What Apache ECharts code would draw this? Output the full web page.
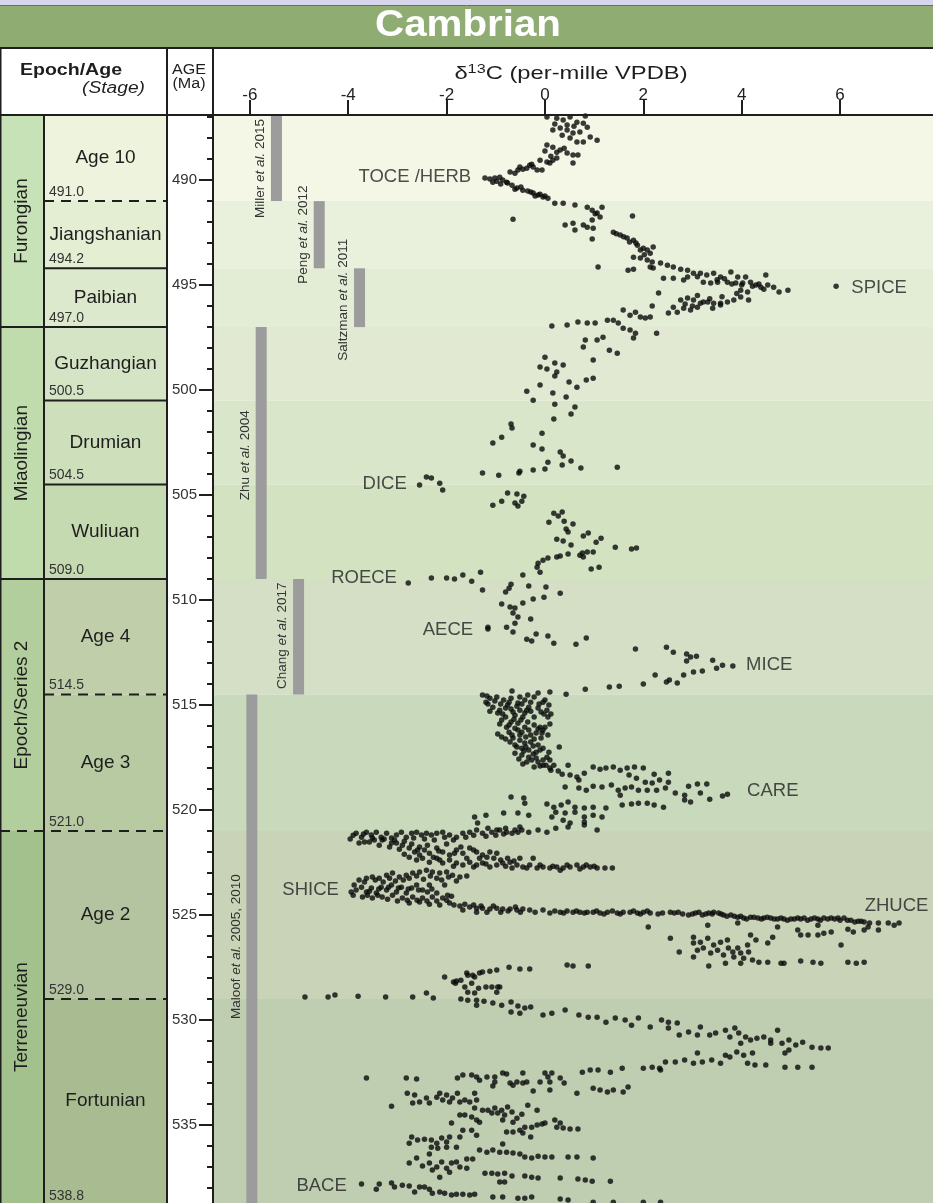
<!DOCTYPE html>
<html>
<head>
<meta charset="utf-8">
<script src="https://cdn.jsdelivr.net/npm/echarts@6/dist/echarts.min.js"></script>
<style>
html,body{margin:0;padding:0;background:#fff;}
#chart{width:933px;height:1203px;}
</style>
</head>
<body>
<div id="chart"></div>
<script>
// ---------------- Chronostratigraphy (Ma) ----------------
const cambrianTop = 485.4;
const stageNames = ['Age 10', 'Jiangshanian', 'Paibian', 'Guzhangian', 'Drumian', 'Wuliuan', 'Age 4', 'Age 3', 'Age 2', 'Fortunian'];
const stageBase = [491.0, 494.2, 497.0, 500.5, 504.5, 509.0, 514.5, 521.0, 529.0, 538.8];
const stageDashedBase = [true, false, false, false, false, false, true, true, true, false];
const epochNames = ['Furongian', 'Miaolingian', 'Epoch/Series 2', 'Terreneuvian'];
const epochBase = [497.0, 509.0, 521.0, 538.8];
const epochDashedBase = [false, false, true, false];

// ---------------- Axis ticks ----------------
const ageTicks = [490, 495, 500, 505, 510, 515, 520, 525, 530, 535];
const d13cTicks = [-6, -4, -2, 0, 2, 4, 6];

// ---------------- Source compilations (grey bars) ----------------
const refAuthors = ['Miller', 'Peng', 'Saltzman', 'Zhu', 'Chang', 'Maloof'];
const refYears = ['2015', '2012', '2011', '2004', '2017', '2005, 2010'];
const refD13C = [-5.46, -4.59, -3.77, -5.77, -5.01, -5.96];
const refTop = [485.4, 491.0, 494.2, 497.0, 509.0, 514.5];
const refBase = [491.0, 494.2, 497.0, 509.0, 514.5, 538.8];
const refLabelAge = [489.45, 492.6, 495.7, 503.1, 511.7, 526.5];

// ---------------- Named carbon-isotope excursions ----------------
const excursionNames = ['TOCE /HERB', 'SPICE', 'DICE', 'ROECE', 'AECE', 'MICE', 'CARE', 'SHICE', 'ZHUCE', 'BACE'];
const excursionD13C = [-1.49, 6.22, -2.8, -3.0, -1.45, 4.08, 4.1, -4.18, 6.49, -4.02];
const excursionAge = [489.86, 495.14, 504.48, 508.95, 511.43, 513.1, 519.1, 523.81, 524.57, 537.9];
const excursionSide = ['left', 'right', 'left', 'left', 'left', 'right', 'right', 'left', 'right', 'left'];

// ---------------- δ13C measurements [per-mille VPDB, age Ma] ----------------
const age10Pts = [
  [0.82,486.95],[0.04,487.0],[0.24,487.05],[0.37,487.14],[0.51,487.0],[0.65,487.24],[0.78,487.29],
  [0.16,487.62],[0.31,487.52],[0.45,487.62],[0.57,487.76],[0.71,487.71],[0.86,487.48],
  [0.65,488.19],[0.78,488.19],[0.92,487.95],[1.06,488.1],
  [0.04,488.33],[0.16,488.43],[0.24,488.67],[0.31,488.57],[0.45,488.71],[0.57,488.81],[0.67,488.81],
  [-0.1,489.05],[0.04,489.14],[0.1,489.19],[0.16,489.05],[0.24,488.95],[0.57,489.19],
  [-0.51,489.38],[-0.37,489.43],[-0.24,489.38],[-0.16,489.52],[-0.06,489.52],
  [-0.71,489.62],[-0.61,489.67],[-0.55,489.52],
  [-1.22,489.9],[-1.12,489.95],[-1.02,489.9],[-0.92,489.86],[-0.86,490.0],[-0.78,490.1],[-0.76,490.14],[-0.67,490.24],[-0.57,490.38],
  [-0.45,490.48],[-0.35,490.52],[-0.24,490.62],[-0.14,490.71],[-0.04,490.81],[0.06,490.86],
  [0.2,487.33],[0.45,487.38],[0.59,487.43],[0.35,487.86],[0.51,488.0],[0.39,488.48],[0.12,488.86],[0.0,488.62],
  [-0.27,489.24],[-0.45,489.48],[-0.31,489.29],[-0.98,490.05],[-1.06,490.1],[-0.9,490.19],[-0.61,490.43],
  [-0.49,490.33],[-0.29,490.57],[-0.1,490.67],[-0.2,490.76],[0.0,490.76]
];
const jiangshanianPts = [
  [0.2,491.1],[0.37,491.1],[0.61,491.19],[0.86,491.29],[0.96,491.43],[1.06,491.57],[1.16,491.29],[1.12,491.76],
  [-0.65,491.86],[1.78,491.71],
  [0.41,492.14],[0.57,492.05],[0.61,492.38],[0.78,492.14],[0.86,492.24],[0.98,492.29],[0.96,491.9],[0.96,492.81],
  [1.39,492.48],[1.53,492.62],[1.67,492.76],[1.8,492.86],[1.88,493.1],[1.94,493.33],[2.0,493.24],[2.08,493.33],[2.14,493.48],[2.2,493.19],
  [1.8,493.67],[1.94,493.71],[2.08,493.81],[2.18,493.9],[1.08,494.14],
  [1.69,494.29],[1.8,494.24],[2.14,494.14],[2.2,494.19],[2.35,493.95],[2.49,494.05],[2.61,494.14],[2.76,494.24],[2.9,494.29],
  [1.02,491.6],[1.45,492.55],[1.6,492.7],[1.72,492.95],[1.85,493.0],[2.02,493.55]
];
const paibianPts = [
  [2.41,494.67],[2.61,494.67],[2.82,494.76],[2.9,494.62],[3.02,494.43],[3.16,494.43],[3.29,494.52],[3.43,494.43],[3.57,494.62],[3.78,494.38],[3.92,494.62],[4.08,494.62],
  [3.22,494.86],[3.37,494.9],[3.51,494.86],[3.71,494.86],[3.88,494.9],[4.02,494.9],[4.18,494.86],[4.29,495.0],[4.39,495.1],[4.49,494.52],[4.53,495.0],[4.65,495.1],[4.76,495.33],[4.94,495.24],
  [5.92,495.05],
  [3.98,495.24],[4.12,495.33],[3.98,495.57],[3.84,495.71],[3.71,495.81],[3.57,495.86],[3.43,495.86],[3.31,495.81],[3.16,495.86],[3.02,495.71],[2.9,495.62],[2.76,495.71],
  [2.61,496.05],[2.51,496.33],[2.69,496.29],[2.82,496.1],[2.96,496.19],[3.1,496.05],[3.22,495.81],[3.41,496.1],[3.57,495.95],[4.14,495.71],
  [2.31,495.38],[2.18,496.0],
  [1.59,496.19],[1.73,496.43],[1.84,496.29],[1.94,496.52],[2.04,496.57],[2.14,496.52],[1.39,496.67],[1.49,496.81],
  [0.14,496.95],[0.45,496.9],[0.67,496.76],[0.86,496.81],[1.02,496.81],[1.27,496.67],
  [3.5,494.75],[3.65,494.7],[3.8,494.95],[4.22,495.05],[4.35,494.95],[4.45,495.2],[3.9,495.4],[3.6,495.55],[3.35,495.65],[3.1,495.5],[2.85,495.9],[3.0,496.0],[4.0,495.0],[3.1,494.6]
];
const guzhangianPts = [
  [1.59,497.05],[1.73,497.14],[1.84,497.29],[1.8,497.52],[2.27,497.29],
  [0.82,497.62],[0.78,497.95],[1.06,497.62],[1.18,497.48],
  [0,498.43],[0.2,498.71],[0.37,498.81],[-0.1,498.9],[0.04,499.0],[0.24,499.14],[0.2,499.33],
  [0.98,498.57],[1.31,498.1],[1.47,498.24],
  [-0.1,499.76],[0.49,499.62],[0.65,499.86],[0.84,499.52],[0.98,499.43],
  [-0.37,500.05],[-0.24,500.48],[0.16,500.14],[0.43,500.33]
];
const drumianPts = [
  [0.2,500.67],[0.61,500.81],[0.53,501.14],[0.18,501.38],
  [-0.69,501.62],[-0.67,501.81],[-0.88,502.24],[-1.06,502.52],[-0.06,502.05],[-0.24,502.62],[-0.06,502.81],
  [0.31,502.95],[0.37,503.14],[0.53,503.38],[0.35,503.57],[0.73,503.71],[0.06,503.43],[0,503.76],[-0.24,503.81],[-0.51,503.86],[-0.53,503.95],[-0.94,504.05],[-1.27,503.95],[1.47,503.67],
  [-2.55,504.52],[-2.41,504.14],[-2.31,504.19],[-2.14,504.43],[-2.08,504.76]
];
const wuliuanPts = [
  [-0.76,504.9],[-0.57,504.95],[-0.43,505.05],[-0.88,505.29],[-1.06,505.48],[-0.61,505.38],[-0.55,505.52],[-0.47,505.29],
  [0.18,505.86],[0.35,505.81],[0.08,506.29],[0.27,506.0],[0.39,506.24],[0.57,506.38],[0.43,506.62],[0.47,506.76],
  [0.24,507.1],[0.37,507.19],[0.53,507.38],[0.78,506.95],[0.88,506.81],[1.04,507.24],[1.14,507.05],[1.43,507.48],[1.76,507.57],[1.86,507.52],
  [0.76,507.76],[0.86,507.71],[0.98,507.71],[0.71,507.86],[0.78,507.95],[0.47,507.81],[0.31,507.9],[0.24,507.95],[0.06,508.0],[-0.04,508.1],[-0.14,508.24],[-0.16,508.43],[-0.1,508.67],[0.94,508.52],[1.1,508.43],
  [-0.45,508.81],
  [-2.78,509.19],[-2.31,508.95],[-2.0,508.95],[-1.84,509.0],[-1.67,508.81],[-1.49,509.1],[-1.31,508.67]
];
const age4Pts = [
  [-0.69,509.24],[-0.8,509.62],[-0.73,509.43],[-0.33,509.33],[0.02,509.38],[0.31,509.67],[-1.27,509.52],[-0.02,509.86],[-0.24,509.95],[-0.45,510.14],
  [-0.88,510.19],[-0.71,510.33],[-0.61,510.38],[-0.65,510.62],[-0.55,510.81],[-0.29,510.9],[-0.61,511.1],[-0.65,511.52],[-0.78,511.29],
  [-1.16,511.29],[-1.16,511.38],
  [-0.37,511.86],[-0.27,511.95],[-0.18,511.62],[0.06,511.71],[0.18,512.05],[0.63,512.1],[0.84,511.81],
  [1.84,512.33],[2.47,512.24],[2.61,512.48],[2.88,512.57],[2.96,512.71],[3.08,512.67],[2.88,512.9],[3.41,512.86],[3.49,513.24],[3.61,513.1],[3.82,513.14],
  [3.02,513.43],[3.2,513.38],[2.82,513.57],[2.69,513.95],[2.53,513.81],[2.47,513.9],[2.24,513.57],[2.0,514.0],[1.51,514.1],[1.31,514.14],[0.82,514.24],
  [0.43,514.48],[0.1,514.38],[-0.14,514.43],[-0.35,514.52],[-0.67,514.33],[-0.51,514.62],[-1.18,514.57]
];
const age3Pts = [
  [-1.27,514.52],[-1.2,514.86],[-1.12,514.67],[-0.98,514.62],[-0.84,514.76],[-0.69,514.67],[-0.55,514.9],[-0.41,514.76],[-0.22,514.62],[-0.04,514.86],[0,514.76],
  [-1.06,515.1],[-0.92,515.24],[-0.8,515.14],[-0.65,515.33],[-0.51,515.24],[-0.33,515.1],[-0.14,515.14],[0.04,515.24],[-0.96,515.38],[-0.8,515.57],[-0.61,515.48],[-0.41,515.38],[-0.22,515.57],[0.06,515.57],
  [-0.88,515.71],[-0.69,515.81],[-0.55,515.86],[-0.41,516.05],[-0.22,515.95],[-0.1,516.05],[0.1,515.9],[-0.61,516.1],[-0.47,516.29],[-0.33,516.19],[-0.18,516.33],[-0.06,516.33],
  [-0.88,516.52],[-0.8,516.62],[-0.65,516.57],[-0.51,516.67],[-0.41,516.81],[-0.29,516.76],[-0.14,516.9],[-0.61,516.9],[-0.47,517.05],[-0.33,517.14],[-0.18,517.24],[-0.04,517.05],[0.29,517.0],
  [-0.61,517.29],[-0.47,517.38],[-0.33,517.48],[-0.18,517.52],[-0.04,517.62],[0.04,517.48],[-0.37,517.71],[-0.14,517.71],[0.18,517.86],[0.12,518.1],[0.47,517.86],
  [-0.76,515.0],[-0.57,515.05],[-0.29,515.29],[-0.02,515.43],[-0.73,515.95],[-0.29,516.43],[-0.51,516.43],[-0.04,516.19],[-0.73,516.29],[-0.24,517.33],[-0.43,517.19],[0.02,517.86],[-0.1,517.9],[0.1,517.62],
  [-1.16,514.95],[-1.02,514.81],[-0.9,514.95],[-0.73,514.86],[-0.47,514.95],[-0.29,514.86],[-0.12,514.95],[0.08,515.0],
  [-1.12,515.29],[-0.86,515.43],[-0.69,515.19],[-0.45,515.57],[-0.37,515.24],[-0.08,515.33],[0.12,515.43],
  [-0.92,515.9],[-0.78,516.05],[-0.63,515.67],[-0.49,515.71],[-0.35,515.81],[-0.14,516.14],[0.0,516.05],
  [-0.96,516.38],[-0.67,516.43],[-0.55,516.19],[-0.39,516.52],[-0.22,516.62],[-0.08,516.57],[0.06,516.43],
  [-0.71,516.76],[-0.57,517.0],[-0.39,517.0],[-0.24,516.95],[-0.1,517.14],[0.08,517.24],
  [-0.53,517.57],[-0.45,517.81],[-0.27,517.62],[-0.04,517.86],[0.1,518.0],[-0.22,517.95],[0.27,518.14],[0.35,518.29],
  [0.51,518.33],[0.65,518.43],[0.8,518.24],[0.69,518.57],[0.98,517.95],[1.12,518.05],[1.24,518.0],[1.39,517.95],[1.53,518.1],[1.67,518.0],[1.82,517.95],[2.0,518.0],[2.22,518.29],[2.51,518.24],
  [1.71,518.33],[1.86,518.48],[2.04,518.67],[2.18,518.71],[2.33,518.57],[2.51,518.67],[2.65,519.19],[2.84,519.29],[2.92,518.86],[3.1,518.76],[3.29,518.76],[3.16,519.19],[3.35,519.48],[3.61,519.33],[3.71,519.24],[2.96,519.62],[2.84,519.52],
  [0.41,518.9],[0.69,518.95],[0.84,519.05],[0.98,518.86],[1.16,518.9],[1.35,518.81],[1.49,519.05],[1.53,519.29],[1.63,518.95],[1.76,518.9],[1.9,519.05],[2.08,519.05],[2.27,519.05],[2.45,518.95],
  [1.57,519.76],[1.76,519.71],[1.9,519.67],[2.08,519.67],[2.22,519.76],[2.41,519.86],
  [-0.69,519.38],[-0.43,519.43],[-0.41,519.67],[0.04,519.71],[0.18,519.86],[0.33,519.76],[0.47,519.62],[0.61,519.86],[0.8,519.9],[0.98,519.86],[1.24,519.9],
  [0.22,520.1],[0.41,520.14],[0.61,520.1],[0.8,520.33],[0.98,520.24],[1.16,520.33],[0.14,520.33],[0.37,520.48],[0.51,520.62],[0.8,520.57],[0.8,520.71],
  [-1.43,520.33],[-1.2,520.24],[-0.84,520.14],[-0.55,520.14],[-0.33,520.24],[-1.37,520.62],[-1.16,520.86],[-0.98,520.95],[-0.8,520.86],[-0.51,520.81],[-0.33,521.05],[-0.14,520.95],[0.04,521.05],[0.22,520.86],[0.47,520.81],[1.06,520.95]
];
const age2Pts = [
  // SHICE, upper limb
  [-3.96,521.38],[-3.84,521.1],[-3.73,521.29],[-3.63,521.05],[-3.53,521.19],[-3.43,521.05],[-3.33,521.29],[-3.22,521.1],[-3.12,521.33],[-3.02,521.19],[-2.92,521.05],[-2.82,521.29],[-2.71,521.1],[-2.61,521.05],[-2.51,521.19],
  [-2.41,521.1],[-2.31,521.19],[-2.2,521.1],[-2.08,521.05],[-1.94,521.19],[-1.8,521.29],[-1.67,521.1],[-1.53,521.05],[-1.39,520.95],[-1.27,521.1],[-1.08,521.05],[-0.92,520.95],[-0.78,521.05],[-0.61,520.95],[-0.47,520.95],
  [-3.78,521.57],[-3.57,521.52],[-3.37,521.67],[-3.16,521.76],[-3.02,521.57],[-3.31,521.43],[-3.51,521.33],[-3.67,521.52],
  [-3.9,521.2],[-3.69,521.14],[-3.47,521.43],[-3.27,521.38],[-3.06,521.43],[-2.86,521.48],[-2.67,521.33],[-2.45,521.38],[-2.25,521.43],[-2.04,521.29],[-1.86,521.43],[-1.61,521.29],[-1.45,521.2],[-1.2,521.24],[-1.0,521.2],[-0.84,521.14],[-0.67,521.1],[-0.55,521.05],
  [-2.9,521.67],[-2.76,521.81],[-2.65,522.0],[-2.55,521.76],[-2.45,521.9],[-2.35,522.05],[-2.2,521.81],[-2.08,522.0],[-1.94,522.14],[-1.8,521.9],[-1.67,522.05],[-1.53,521.81],[-1.39,522.0],[-1.27,522.14],[-1.12,522.0],[-0.98,522.05],
  [-3.12,521.57],[-2.96,521.86],[-2.71,521.62],[-2.59,521.9],[-2.39,521.67],[-2.16,521.95],[-2.0,521.62],[-1.84,522.05],[-1.71,521.76],[-1.45,521.9],[-1.33,522.29],[-1.18,522.24],[-1.04,522.29],[-0.9,522.38],[-0.76,522.29],[-0.63,522.43],
  [-2.76,522.24],[-2.61,522.38],[-2.49,522.29],[-2.35,522.48],[-2.2,522.29],[-2.08,522.52],[-1.94,522.38],[-1.8,522.52],[-1.67,522.62],[-1.53,522.48],[-1.39,522.62],[-1.27,522.52],[-1.12,522.71],[-0.98,522.62],
  [-2.86,522.1],[-2.55,522.14],[-2.27,522.24],[-2.14,522.38],[-1.86,522.67],[-1.59,522.29],[-1.45,522.71],[-1.2,522.57],[-0.8,522.67],[-0.67,522.76],[-0.37,522.76],[-0.1,522.62],[0.16,522.67],[0.31,522.86],[0.45,522.62],[0.71,522.81],[0.84,522.62],[1.0,522.67],[1.22,522.76],
  [-0.86,522.52],[-0.71,522.48],[-0.57,522.62],[-0.51,522.29],[-0.45,522.71],[-0.31,522.62],[-0.24,522.29],[-0.16,522.76],[-0.04,522.71],[0.1,522.76],[0.24,522.71],[0.37,522.76],[0.51,522.71],[0.65,522.62],[0.78,522.71],[0.92,522.71],[1.06,522.76],[1.37,522.76],
  // SHICE, lower limb
  [-3.78,523.33],[-3.63,523.24],[-3.51,523.19],[-3.37,523.24],[-3.22,523.1],[-3.1,523.0],[-2.96,523.19],[-2.82,523.1],[-2.69,523.0],[-2.55,522.95],[-2.41,522.86],[-2.29,522.95],[-2.14,523.0],[-2.0,522.95],[-1.88,523.1],[-1.73,523.19],[-1.59,523.14],[-2.2,523.24],[-2.04,523.57],[-2.35,523.57],
  [-3.88,523.57],[-3.67,523.43],[-3.45,523.33],[-3.29,523.43],[-3.16,523.24],[-3.04,523.38],[-2.88,523.33],[-2.76,523.24],[-2.61,523.14],[-2.47,523.29],[-2.33,523.14],[-2.1,523.33],[-1.96,523.19],[-1.8,523.38],
  [-3.94,523.9],[-3.84,523.81],[-3.73,523.67],[-3.63,523.9],[-3.53,523.71],[-3.43,523.95],[-3.33,523.67],[-3.22,523.81],[-3.12,523.57],[-3.02,523.9],[-2.92,523.67],[-2.82,523.95],[-2.71,523.71],[-2.61,523.57],[-2.49,523.81],[-2.39,523.9],
  [-3.57,523.86],[-3.38,523.76],[-3.18,523.67],[-2.98,523.71],[-2.78,523.76],[-2.57,523.81],[-2.3,523.76],[-2.2,523.95],[-1.9,524.1],
  [-3.71,524.14],[-3.51,524.19],[-3.31,524.14],[-3.1,524.05],[-2.9,524.19],[-2.69,524.14],[-2.49,524.19],[-2.29,524.14],[-2.08,524.19],[-1.98,524.05],
  [-3.9,524.05],[-3.61,524.05],[-3.4,524.05],[-3.2,524.24],[-3.0,524.33],[-2.8,524.29],[-2.6,524.29],[-2.4,524.33],[-2.2,524.33],[-2.0,524.29],[-1.85,524.52],[-1.63,524.48],[-1.45,524.52],[-1.3,524.57],[-1.05,524.57],[-0.9,524.86],[-0.75,524.81],[-0.6,524.62],[-0.5,524.86],[-0.2,524.86],
  [-2.76,524.43],[-2.55,524.38],[-2.35,524.48],[-2.14,524.52],[-1.94,524.43],[-1.73,524.57],[-1.53,524.62],[-1.39,524.67],[-1.27,524.67],[-1.12,524.71],[-0.98,524.67],[-0.86,524.71],[-0.71,524.71],[-0.57,524.76],[-0.45,524.71],[-0.31,524.76],[-1.67,524.76],[-1.39,524.86],[-1.18,524.86],
  // ZHUCE
  [-0.04,524.76],[0.1,524.9],[0.31,524.86],[0.45,524.81],[0.57,524.86],[0.71,524.86],[0.86,524.86],[0.98,524.86],[1.12,524.9],[1.27,524.86],[1.47,524.9],[1.59,524.86],[1.73,524.86],[1.88,524.9],[2.0,524.86],[2.14,524.9],
  [2.39,524.9],[2.55,524.86],[2.71,524.86],[2.92,525.0],[3.06,524.9],[3.2,525.0],[3.33,524.9],[3.43,524.86],[3.53,524.9],[3.63,525.0],[3.78,525.0],[3.92,525.1],[4.04,525.14],[4.18,525.1],[4.33,525.14],[4.45,525.14],
  [4.59,525.14],[4.73,525.19],[4.86,525.19],[5.0,525.19],[5.14,525.14],[5.27,525.14],[5.41,525.19],[5.55,525.19],[5.67,525.14],[5.82,525.14],[5.96,525.14],[6.08,525.14],
  [0.2,524.81],[0.38,524.9],[0.64,524.81],[0.8,524.9],[1.05,524.81],[1.2,524.95],[1.37,524.81],[1.53,524.95],[1.8,524.81],[1.94,524.95],[2.08,524.81],[2.3,524.95],[2.63,524.9],[2.8,524.95],[3.0,524.95],[3.13,524.86],
  [3.27,524.95],[3.4,524.95],[3.58,524.95],[3.7,525.05],[3.85,525.05],[3.98,525.05],[4.1,525.19],[4.25,525.1],[4.4,525.19],[4.52,525.1],[4.66,525.19],[4.8,525.14],[4.93,525.24],[5.07,525.19],[5.2,525.19],[5.34,525.24],
  [5.48,525.14],[5.6,525.24],[5.75,525.19],[5.89,525.19],[6.0,525.24],[6.15,525.24],[6.3,525.33],[6.43,525.29],[6.6,525.38],
  [6.22,525.24],[6.37,525.29],[6.49,525.33],[6.57,525.57],[6.78,525.38],[6.78,525.71],[6.98,525.38],[7.1,525.48],[7.2,525.38],[6.16,525.67],[6.27,525.81],[6.49,525.71],[6.02,526.43],
  [2.1,525.57],[3.31,525.48],[3.92,525.38],[4.73,525.57],[5.14,525.71],[5.2,525.95],[5.35,525.95],[5.55,525.95],[5.67,525.86],[5.82,525.81],[5.55,525.48],
  [2.55,526.1],[2.73,526.76],[3.02,526.05],[3.02,526.33],[3.1,526.67],[3.02,527.0],[3.16,526.29],[3.22,526.57],[3.31,526.1],[3.37,526.81],[3.43,526.43],[3.51,526.67],[3.57,526.29],[3.63,526.9],[3.71,526.19],[3.73,526.57],
  [3.82,526.76],[3.84,527.0],[3.92,526.57],[3.98,526.81],[4.04,527.05],[4.12,526.43],[4.14,526.76],[4.18,525.95],[4.22,527.14],[4.29,526.19],[4.35,527.24],[4.53,526.33],[4.63,526.05],[4.53,527.24],
  [3.33,527.43],[3.67,527.29],[3.98,527.29],[4.8,527.29],[4.86,527.29],[5.2,527.19],[5.45,527.24],[5.61,527.29],[6.16,527.24],[6.33,527.29],[6.49,527.24],
  // Age 2 / Fortunian transition
  [-2.04,527.95],[-1.8,528.14],[-1.59,527.76],[-1.47,527.86],[-1.33,527.76],[-1.27,527.71],[-1.12,527.67],[-0.98,527.62],[-0.73,527.48],[-0.51,527.57],[-0.31,527.57],[0.45,527.38],[0.57,527.43],[0.88,527.43],
  [-1.49,528.24],[-1.08,528.43],[-0.96,528.43],[-1.86,528.19],[-1.71,528.1],[-1.57,527.86],[-1.43,527.95],[-1.82,528.24],[-1.63,528.43],[-1.35,528.48],[-1.57,528.67],[-1.43,528.71],[-1.2,528.43],[-0.92,528.43],[-0.98,528.67],
  [-4.88,528.9],[-4.41,528.9],[-4.27,528.81],[-3.8,528.86],[-3.24,528.9],[-2.69,528.9],[-2.41,528.71],[-2.27,528.95]
];
const fortunianPts = [
  [-1.71,529.0],[-1.57,529.05],[-1.39,529.05],[-1.24,529.1],[-1.39,529.29],[-1.06,529.19],[-0.88,529.29],[-0.69,529.14],[-0.55,529.33],[-0.41,529.43],[-0.29,529.38],[-0.69,529.62],[-0.51,529.67],
  [-0.04,529.76],[0.14,529.67],[0.41,529.52],[0.69,529.76],[0.88,529.86],[1.06,529.86],[1.24,530.1],[1.43,529.9],[1.63,530.0],[1.76,530.24],[1.9,529.9],[2.14,530.33],[2.37,530.0],[2.51,530.1],[2.69,530.14],
  [2.51,530.38],[2.73,530.71],[2.92,530.57],[3.16,530.33],[3.1,530.71],[3.35,530.71],[3.47,530.62],[3.67,530.48],[3.76,530.81],[3.86,530.38],[3.94,530.62],[4.08,530.81],[4.18,530.95],[4.31,530.86],
  [4.45,530.81],[4.59,530.95],[4.73,530.48],[4.82,531.1],[4.96,530.95],[5.1,531.19],[5.24,531.05],[5.43,531.29],[5.61,531.33],[5.76,531.33],[4.88,531.57],[4.96,531.43],[3.98,531.1],[4.59,531.1],
  [4.22,531.57],[4.04,531.67],[3.9,531.52],[3.67,531.67],[3.57,532.05],[3.39,531.9],[3.2,532.0],[3.1,531.57],[3.02,532.05],[2.84,531.9],[2.65,532.0],[2.45,532.0],[2.33,532.29],[2.18,532.24],[2.0,532.29],
  [4.27,532.14],[4.49,532.14],[4.88,532.24],[5.14,532.24],[5.43,532.24],[4.12,532.05],[3.76,531.76],[2.35,532.38],
  [-3.63,532.76],[-2.82,532.76],[-2.61,532.81],
  [-1.78,532.76],[-1.67,532.62],[-1.49,532.62],[-1.39,532.71],[-1.33,532.86],[-1.18,532.71],[-1.02,532.71],[-1.02,532.95],[-0.86,532.52],[-0.78,532.57],[-1.06,533.14],[-0.71,533.0],[-0.65,533.1],[-0.57,532.95],
  [-0.45,532.52],[-0.45,533.0],[-0.37,532.95],[-0.24,533.38],[-0.1,532.95],[0,532.52],[0.06,532.71],[0.14,532.52],[0.1,532.95],[0.1,533.33],[0.31,532.76],[0.39,533.0],[0.65,533.48],
  [0.76,532.48],[0.92,532.38],[1.08,532.38],[1.33,532.48],[1.57,532.29],
  [0.98,533.24],[1.12,533.33],[1.27,533.43],[1.39,533.33],[1.59,533.43],[1.69,533.19],
  [-2.8,533.48],[-2.65,533.57],[-2.69,533.95],[-2.55,533.9],[-2.41,533.71],[-2.35,533.95],[-2.2,533.67],[-2.14,533.48],[-2.08,533.81],[-2.0,533.57],[-1.94,533.9],[-1.88,533.71],[-1.78,533.48],[-1.73,533.9],
  [-1.63,533.81],[-1.53,533.9],[-1.43,533.48],[-1.39,533.81],[-3.12,534.1],
  [-1.73,534.52],[-1.63,534.52],[-1.49,534.62],[-1.43,534.19],[-1.39,534.76],[-1.33,534.86],[-1.27,534.29],[-1.16,534.29],[-1.08,534.43],[-1.02,534.19],[-0.96,534.43],[-0.88,534.29],[-0.82,534.52],[-0.76,534.14],
  [-0.67,534.38],[-0.86,534.76],[-0.65,534.86],[-0.57,534.67],[-0.47,534.48],[-0.35,534.05],[-0.16,534.29],[-1.9,534.9],
  [-0.78,535.33],[-0.65,535.33],[-0.51,535.24],[-0.41,535.1],[-0.27,535.1],[-0.16,535.0],[-0.06,534.95],[0,534.9],[0.2,534.76],[0.31,534.9],[0.24,535.1],[0.37,535.14],[0.51,535.19],[0.67,535.19],[-0.29,535.57],[-0.45,535.38],
  [-1.67,535.24],[-1.49,535.24],[-1.39,535.48],[-1.73,535.57],[-2.71,535.57],[-2.76,535.86],[-2.59,535.71],[-2.45,535.67],[-2.31,535.71],[-2.2,535.86],[-2.1,535.62],[-2.0,535.81],[-1.94,535.57],[-1.8,536.05],
  [-2.31,536.05],[-2.18,536.1],[-2.0,536.05],[-0.86,535.9],[-2.35,536.38],
  [-1.33,536.19],[-1.18,536.29],[-1.06,536.19],[-0.92,536.29],[-0.78,536.29],[-0.65,536.33],[-0.51,536.38],[-0.41,536.52],[-0.27,536.57],[-0.14,536.48],[0,536.52],[0.14,536.52],[0.47,536.52],[0.65,536.52],[0.98,536.57],
  [-2.76,536.81],[-2.61,536.57],[-2.49,536.95],[-2.35,536.81],[-2.2,537.0],[-2.1,536.76],[-2.0,537.05],[-1.9,536.81],[-1.8,536.76],[-1.73,537.0],[-1.59,536.62],[-1.47,536.62],[-1.59,537.05],[-2.14,537.48],[-2.29,537.14],[-1.94,537.24],
  [-1.22,537.29],[-1.08,537.29],[-0.96,537.33],[-0.82,537.29],[-0.67,537.43],[-0.92,537.71],[-0.82,537.71],[-0.41,537.43],[-0.27,537.48],[-0.14,537.52],[0.31,537.52],[0.67,537.57],[0.82,537.62],[0.96,537.67],[1.33,537.67],
  // BACE
  [-3.73,537.81],[-3.43,538.05],[-3.37,537.81],[-3.12,537.76],[-3.06,537.95],[-2.9,537.86],[-2.76,537.9],[-2.65,538.19],[-2.55,537.95],[-2.45,537.95],[-2.35,538.05],[-2.29,538.24],[-2.14,538.19],[-2.04,538.24],
  [-1.9,538.33],[-1.8,538.29],[-1.67,538.29],[-1.53,538.33],[-1.43,538.29],[-1.06,538.43],[-0.86,538.43],[-0.55,538.48],[-0.41,538.48],[-0.27,538.43],[0.31,538.52],[0.47,538.57],[0.98,538.67],[1.39,538.67],[2.0,538.67],[2.35,538.67]
];

const allPoints = [].concat(age10Pts, jiangshanianPts, paibianPts, guzhangianPts, drumianPts,
  wuliuanPts, age4Pts, age3Pts, age2Pts, fortunianPts);

// ---------------- Styling ----------------
const FONT = '"Liberation Sans", Arial, Helvetica, sans-serif';
const INK = '#1e1e1e';
const stageCellColors = ['#edf3dd', '#e3eed3', '#dce9cc', '#d5e4c4', '#cde0bb', '#c5dab0', '#c0cfaa', '#b8caa2', '#b4c3a0', '#a9bc91'];
const stageBandColors = ['#f4f6e6', '#e9f0db', '#e3edd6', '#e1e9d3', '#d9e6c9', '#d3e3c2', '#d4dfc6', '#c9d9bc', '#c9d3b7', '#bfcdb1'];
const epochColors = ['#c7e2b6', '#c0dcad', '#b2ce9d', '#a2c18d'];
const EPOCH_COL = 44;        // width of the epoch column in the table grid
const AGE_MIN = 486.9, AGE_MAX = 538.71;
const D_MIN = -6.75, D_MAX = 7.89;

const chart = echarts.init(document.getElementById('chart'), null, { renderer: 'canvas' });

function stageBandItem(params, api) {
  const i = api.value(2);
  const cs = params.coordSys;
  const top = i === 0 ? cambrianTop : stageBase[i - 1];
  const y0 = api.coord([0, top])[1];
  const y1 = api.coord([0, stageBase[i]])[1];
  return { type: 'rect', shape: { x: cs.x, y: y0, width: cs.width, height: y1 - y0 }, style: { fill: stageBandColors[i] } };
}

function stageCellItem(params, api) {
  const i = api.value(2);
  const cs = params.coordSys;
  const top = i === 0 ? cambrianTop : stageBase[i - 1];
  const y0 = api.coord([0, top])[1];
  const y1 = api.coord([0, stageBase[i]])[1];
  const x0 = cs.x + EPOCH_COL, x1 = cs.x + cs.width;
  const v0 = Math.max(y0, cs.y), v1 = Math.min(y1, cs.y + cs.height);
  const children = [
    { type: 'rect', shape: { x: x0, y: y0, width: x1 - x0, height: y1 - y0 }, style: { fill: stageCellColors[i] } },
    { type: 'text', x: (x0 + x1) / 2, y: (v0 + v1) / 2,
      style: { text: stageNames[i], fontSize: 19, fontFamily: FONT, fill: INK, align: 'center', verticalAlign: 'middle' } },
    { type: 'text', x: x0 + 5, y: y1 - 9,
      style: { text: stageBase[i].toFixed(1), fontSize: 14, fontFamily: FONT, fill: '#333', align: 'left', verticalAlign: 'middle' } }
  ];
  if (epochBase.indexOf(stageBase[i]) < 0) {
    children.push({ type: 'line', z2: 10, shape: { x1: x0, y1: y1, x2: x1, y2: y1 },
      style: { stroke: INK, lineWidth: 2, lineDash: stageDashedBase[i] ? [10, 7] : null } });
  }
  return { type: 'group', children };
}

function epochCellItem(params, api) {
  const i = api.value(2);
  const cs = params.coordSys;
  const top = i === 0 ? cambrianTop : epochBase[i - 1];
  const y0 = api.coord([0, top])[1];
  const y1 = api.coord([0, epochBase[i]])[1];
  const v0 = Math.max(y0, cs.y), v1 = Math.min(y1, cs.y + cs.height);
  return { type: 'group', children: [
    { type: 'rect', shape: { x: cs.x, y: y0, width: EPOCH_COL, height: y1 - y0 }, style: { fill: epochColors[i] } },
    { type: 'text', x: cs.x + EPOCH_COL / 2, y: (v0 + v1) / 2, rotation: Math.PI / 2,
      style: { text: epochNames[i], fontSize: 19, fontFamily: FONT, fill: INK, align: 'center', verticalAlign: 'middle' } },
    { type: 'line', z2: 10, shape: { x1: cs.x, y1: y1, x2: cs.x + cs.width, y2: y1 },
      style: { stroke: INK, lineWidth: 2, lineDash: epochDashedBase[i] ? [10, 7] : null } }
  ] };
}

function refBarItem(params, api) {
  const i = api.value(3);
  const pTop = api.coord([api.value(0), api.value(1)]);
  const pBot = api.coord([api.value(0), api.value(2)]);
  const yLab = api.coord([api.value(0), refLabelAge[i]])[1];
  return { type: 'group', children: [
    { type: 'rect', shape: { x: pTop[0] - 5.5, y: pTop[1], width: 11, height: pBot[1] - pTop[1] }, style: { fill: '#9c9c9c' } },
    { type: 'text', x: pTop[0] - 16, y: yLab, rotation: Math.PI / 2,
      style: {
        text: '{n|' + refAuthors[i] + ' }{i|et al.}{n| ' + refYears[i] + '}',
        align: 'center', verticalAlign: 'middle',
        rich: {
          n: { fontSize: 13.5, fontFamily: FONT, fill: '#333' },
          i: { fontSize: 13.5, fontFamily: FONT, fontStyle: 'italic', fill: '#333' }
        }
      } }
  ] };
}

const frameLine = (x1, y1, x2, y2, w) => ({ type: 'line', z: 100, shape: { x1, y1, x2, y2 }, style: { stroke: INK, lineWidth: w || 2 } });

const option = {
  animation: false,
  backgroundColor: '#ffffff',
  textStyle: { fontFamily: FONT },
  grid: [
    { left: 213, right: 0, top: 115, bottom: 0 },
    { left: 0, width: 167, top: 115, bottom: 0 }
  ],
  xAxis: [
    {
      gridIndex: 0, type: 'value', position: 'top', min: D_MIN, max: D_MAX, splitNumber: 7,
      splitLine: { show: false },
      axisLine: { show: true, onZero: false, lineStyle: { color: INK, width: 2 } },
      axisTick: { show: true, customValues: d13cTicks, length: 15, lineStyle: { color: INK, width: 2 } },
      axisLabel: { customValues: d13cTicks, fontSize: 17, color: '#222', margin: 11, fontFamily: FONT },
      z: 10
    },
    { gridIndex: 1, type: 'value', min: 0, max: 1, show: false }
  ],
  yAxis: [
    {
      gridIndex: 0, type: 'value', inverse: true, min: AGE_MIN, max: AGE_MAX, splitNumber: 10, position: 'left',
      splitLine: { show: false },
      axisLine: { show: true, onZero: false, lineStyle: { color: INK, width: 2 } },
      axisTick: { show: true, customValues: ageTicks, length: 14, lineStyle: { color: INK, width: 2 } },
      minorTick: { show: true, splitNumber: 5, length: 6, lineStyle: { color: INK, width: 2 } },
      minorSplitLine: { show: false },
      axisLabel: { customValues: ageTicks, fontSize: 15, color: '#333', margin: 16, fontFamily: FONT },
      z: 10
    },
    { gridIndex: 1, type: 'value', inverse: true, min: AGE_MIN, max: AGE_MAX, show: false }
  ],
  graphic: [
    { type: 'rect', z: 100, shape: { x: 0, y: 0, width: 933, height: 5 }, style: { fill: '#d6d5ec' } },
    { type: 'line', z: 100, shape: { x1: 0, y1: 5.5, x2: 933, y2: 5.5 }, style: { stroke: '#6a6a78', lineWidth: 1 } },
    { type: 'rect', z: 100, shape: { x: 0, y: 6, width: 933, height: 42 }, style: { fill: '#8fac73' } },
    { type: 'text', z: 101, x: 468, y: 26, scaleX: 1.12,
      style: { text: 'Cambrian', fontSize: 36, fontWeight: 'bold', fontFamily: FONT, fill: '#ffffff', align: 'center', verticalAlign: 'middle' } },
    frameLine(0, 48, 933, 48),
    frameLine(0, 115, 213, 115),
    frameLine(167, 48, 167, 1203),
    frameLine(213, 48, 213, 115),
    frameLine(EPOCH_COL, 115, EPOCH_COL, 1203),
    frameLine(0.75, 48, 0.75, 1203, 1.5),
    { type: 'text', z: 101, x: 71, y: 70, scaleX: 1.15,
      style: { text: 'Epoch/Age', fontSize: 17, fontWeight: 'bold', fontFamily: FONT, fill: INK, align: 'center', verticalAlign: 'middle' } },
    { type: 'text', z: 101, x: 145, y: 89, scaleX: 1.2,
      style: { text: '(Stage)', fontSize: 16, fontStyle: 'italic', fontFamily: FONT, fill: INK, align: 'right', verticalAlign: 'middle' } },
    { type: 'text', z: 101, x: 189, y: 70, scaleX: 1.15,
      style: { text: 'AGE', fontSize: 14, fontFamily: FONT, fill: INK, align: 'center', verticalAlign: 'middle' } },
    { type: 'text', z: 101, x: 189, y: 84, scaleX: 1.15,
      style: { text: '(Ma)', fontSize: 14, fontFamily: FONT, fill: INK, align: 'center', verticalAlign: 'middle' } },
    { type: 'text', z: 101, x: 571, y: 74, scaleX: 1.25,
      style: {
        text: '{a|δ}{s|13}{a|C (per-mille VPDB)}', align: 'center', verticalAlign: 'middle',
        rich: {
          a: { fontSize: 19, fontFamily: FONT, fill: INK, lineHeight: 22 },
          s: { fontSize: 13, fontFamily: FONT, fill: INK, verticalAlign: 'top', lineHeight: 22 }
        }
      } }
  ],
  series: [
    {
      type: 'custom', name: 'stage bands', xAxisIndex: 0, yAxisIndex: 0, clip: true, silent: true, z: 0,
      renderItem: stageBandItem,
      data: stageNames.map((n, i) => [0, stageBase[i], i])
    },
    {
      type: 'custom', name: 'stages', xAxisIndex: 1, yAxisIndex: 1, clip: true, silent: true, z: 1,
      renderItem: stageCellItem,
      data: stageNames.map((n, i) => [0, stageBase[i], i])
    },
    {
      type: 'custom', name: 'epochs', xAxisIndex: 1, yAxisIndex: 1, clip: true, silent: true, z: 2,
      renderItem: epochCellItem,
      data: epochNames.map((n, i) => [0, epochBase[i], i])
    },
    {
      type: 'custom', name: 'sources', xAxisIndex: 0, yAxisIndex: 0, clip: true, silent: true, z: 2,
      renderItem: refBarItem,
      data: refAuthors.map((n, i) => [refD13C[i], refTop[i], refBase[i], i])
    },
    {
      type: 'scatter', name: 'δ13C', xAxisIndex: 0, yAxisIndex: 0, clip: true, silent: true, z: 3,
      symbolSize: 5.5, itemStyle: { color: '#0a0a0a' },
      data: allPoints
    },
    {
      type: 'scatter', name: 'excursions', xAxisIndex: 0, yAxisIndex: 0, silent: true, z: 4,
      symbolSize: 1, itemStyle: { color: 'transparent' },
      label: { show: true, formatter: '{b}', fontSize: 18.5, color: '#222', fontFamily: FONT, distance: 0 },
      data: excursionNames.map((n, i) => ({ name: n, value: [excursionD13C[i], excursionAge[i]], label: { position: excursionSide[i] } }))
    }
  ]
};

chart.setOption(option);
</script>
</body>
</html>
